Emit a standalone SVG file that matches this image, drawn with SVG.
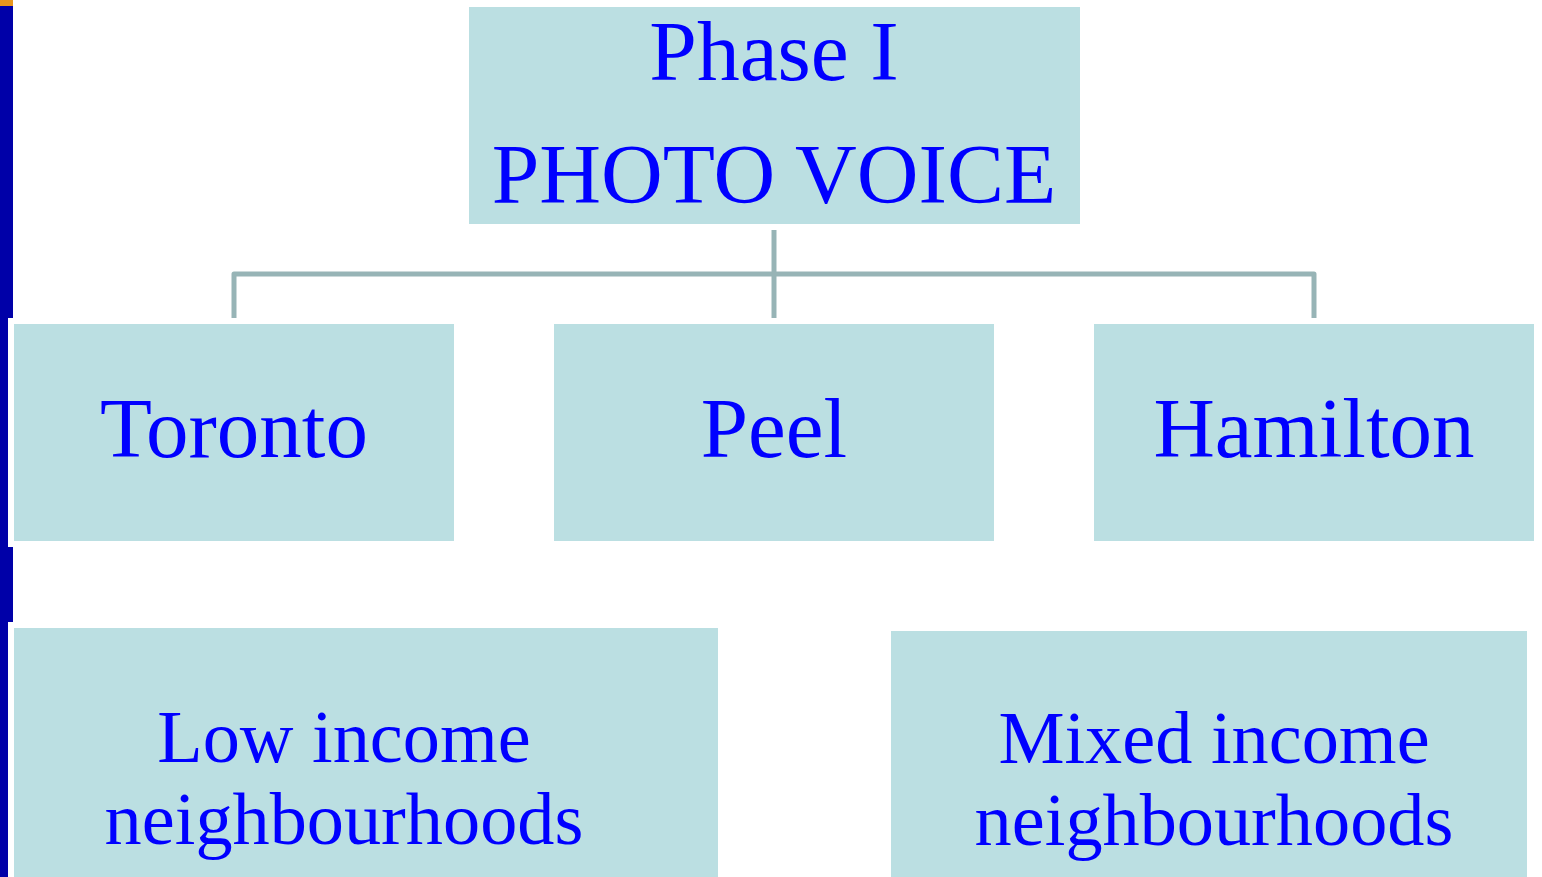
<svg xmlns="http://www.w3.org/2000/svg" width="1542" height="877" viewBox="0 0 1542 877">
<style>
.box{fill:#BBDFE2;stroke:#FFFFFF;stroke-width:6}
.plain{fill:#BBDFE2}
.t{font-family:"Liberation Serif","Times New Roman",serif;fill:#0000FF;text-anchor:middle}
.conn{fill:none;stroke:#97B4B6;stroke-width:5;stroke-linejoin:round}
</style>
<rect x="0" y="0" width="1542" height="877" fill="#FFFFFF"/>
<rect x="0" y="0" width="13" height="877" fill="#0000A8"/>
<rect x="0" y="0" width="13" height="6" fill="#E8961E"/>
<g id="connectors">
<path class="conn" d="M774 230 V318"/>
<path class="conn" d="M234 318 V274 H1314 V318"/>
</g>
<g id="phase">
<rect class="plain" x="469" y="7" width="611" height="217"/>
<text class="t" x="774" y="80" font-size="85.5">Phase I</text>
<text class="t" x="774" y="203" font-size="85.5">PHOTO VOICE</text>
</g>
<g id="toronto">
<rect class="box" x="11" y="321" width="446" height="223"/>
<text class="t" x="234" y="457" font-size="85">Toronto</text>
</g>
<g id="peel">
<rect class="box" x="551" y="321" width="446" height="223"/>
<text class="t" x="774" y="457" font-size="85">Peel</text>
</g>
<g id="hamilton">
<rect class="box" x="1091" y="321" width="446" height="223"/>
<text class="t" x="1314" y="457" font-size="85">Hamilton</text>
</g>
<g id="low">
<rect class="box" x="11" y="625" width="710" height="260"/>
<text class="t" x="344" y="762" font-size="74.3">Low income</text>
<text class="t" x="344" y="844" font-size="74.3">neighbourhoods</text>
</g>
<g id="mixed">
<rect class="box" x="888" y="628" width="642" height="260"/>
<text class="t" x="1214" y="763" font-size="74.3">Mixed income</text>
<text class="t" x="1214" y="845" font-size="74.3">neighbourhoods</text>
</g>
</svg>
